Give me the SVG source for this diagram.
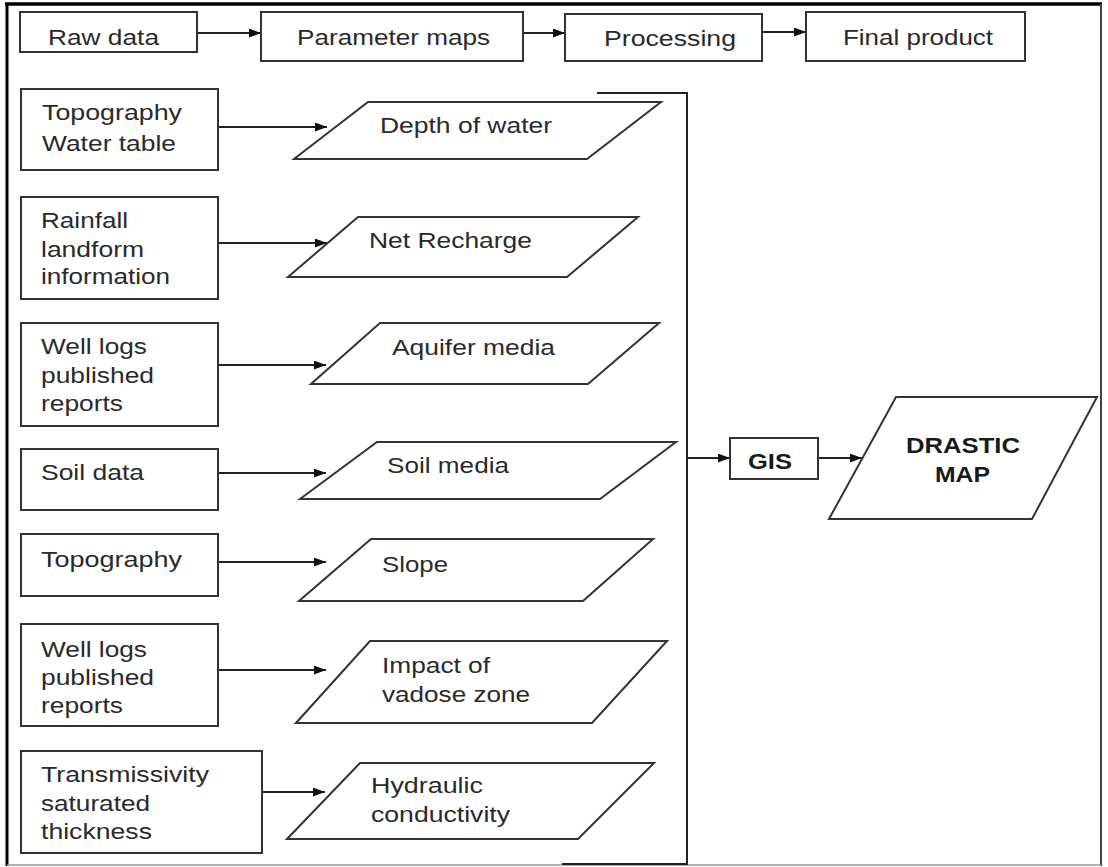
<svg xmlns="http://www.w3.org/2000/svg" width="1108" height="867" viewBox="0 0 1108 867">
<style>
.bx{fill:#fff;stroke:#333;stroke-width:2}
.t{font-family:"Liberation Sans",Arial,sans-serif;font-size:22px;fill:#2a2a2a}
.b{font-weight:bold;fill:#1a1a1a}
.c{stroke:#222;stroke-width:2;fill:none}
</style>
<defs>
<marker id="ah" markerUnits="userSpaceOnUse" markerWidth="13" markerHeight="10" refX="12" refY="4.5" orient="auto">
<path d="M0,0 L12,4.5 L0,9 z" fill="#111"/>
</marker>
</defs>
<rect width="1108" height="867" fill="#fff"/>
<g id="frame">
<line x1="5" y1="4" x2="1102" y2="4" stroke="#000" stroke-width="3.5"/>
<line x1="7" y1="3" x2="7" y2="866" stroke="#000" stroke-width="3"/>
<line x1="1101" y1="4" x2="1101" y2="866" stroke="#444" stroke-width="2"/>
<line x1="7" y1="865" x2="1101" y2="865" stroke="#999" stroke-width="1.5"/>
</g>
<g id="connectors">
<line class="c" x1="197" y1="33" x2="261" y2="33" marker-end="url(#ah)"/>
<line class="c" x1="523" y1="33" x2="565" y2="33" marker-end="url(#ah)"/>
<line class="c" x1="762" y1="32" x2="806" y2="32" marker-end="url(#ah)"/>
<line class="c" x1="218" y1="127" x2="327" y2="127" marker-end="url(#ah)"/>
<line class="c" x1="218" y1="243" x2="327" y2="243" marker-end="url(#ah)"/>
<line class="c" x1="218" y1="365" x2="326" y2="365" marker-end="url(#ah)"/>
<line class="c" x1="218" y1="473" x2="326" y2="473" marker-end="url(#ah)"/>
<line class="c" x1="218" y1="562" x2="326" y2="562" marker-end="url(#ah)"/>
<line class="c" x1="218" y1="670" x2="326" y2="670" marker-end="url(#ah)"/>
<line class="c" x1="262" y1="792" x2="325" y2="792" marker-end="url(#ah)"/>
<polyline class="c" points="597,93 687,93 687,864 562,864"/>
<line class="c" x1="687" y1="458" x2="730" y2="458" marker-end="url(#ah)"/>
<line class="c" x1="818" y1="458" x2="862" y2="458" marker-end="url(#ah)"/>
</g>
<g id="raw-data"><rect class="bx" x="20" y="12" width="177" height="40"/><text class="t" x="48" y="45" textLength="111" lengthAdjust="spacingAndGlyphs">Raw data</text></g>
<g id="parameter-maps"><rect class="bx" x="261" y="12" width="262" height="49"/><text class="t" x="297" y="45" textLength="193" lengthAdjust="spacingAndGlyphs">Parameter maps</text></g>
<g id="processing"><rect class="bx" x="565" y="14" width="197" height="47"/><text class="t" x="604" y="46" textLength="132" lengthAdjust="spacingAndGlyphs">Processing</text></g>
<g id="final-product"><rect class="bx" x="806" y="12" width="219" height="49"/><text class="t" x="843" y="45" textLength="150" lengthAdjust="spacingAndGlyphs">Final product</text></g>

<g id="src1"><rect class="bx" x="21" y="89" width="197" height="81"/><text class="t" x="42" y="120" textLength="140" lengthAdjust="spacingAndGlyphs">Topography</text><text class="t" x="42" y="151" textLength="134" lengthAdjust="spacingAndGlyphs">Water table</text></g>
<g id="src2"><rect class="bx" x="21" y="197" width="197" height="102"/><text class="t" x="41" y="228" textLength="87" lengthAdjust="spacingAndGlyphs">Rainfall</text><text class="t" x="41" y="257" textLength="103" lengthAdjust="spacingAndGlyphs">landform</text><text class="t" x="41" y="284" textLength="129" lengthAdjust="spacingAndGlyphs">information</text></g>
<g id="src3"><rect class="bx" x="21" y="323" width="197" height="103"/><text class="t" x="41" y="354" textLength="106" lengthAdjust="spacingAndGlyphs">Well logs</text><text class="t" x="41" y="383" textLength="113" lengthAdjust="spacingAndGlyphs">published</text><text class="t" x="41" y="411" textLength="82" lengthAdjust="spacingAndGlyphs">reports</text></g>
<g id="src4"><rect class="bx" x="21" y="449" width="197" height="61"/><text class="t" x="41" y="480" textLength="103" lengthAdjust="spacingAndGlyphs">Soil data</text></g>
<g id="src5"><rect class="bx" x="21" y="534" width="197" height="62"/><text class="t" x="41" y="567" textLength="141" lengthAdjust="spacingAndGlyphs">Topography</text></g>
<g id="src6"><rect class="bx" x="21" y="624" width="197" height="102"/><text class="t" x="41" y="657" textLength="106" lengthAdjust="spacingAndGlyphs">Well logs</text><text class="t" x="41" y="685" textLength="113" lengthAdjust="spacingAndGlyphs">published</text><text class="t" x="41" y="713" textLength="82" lengthAdjust="spacingAndGlyphs">reports</text></g>
<g id="src7"><rect class="bx" x="21" y="751" width="241" height="102"/><text class="t" x="41" y="782" textLength="168" lengthAdjust="spacingAndGlyphs">Transmissivity</text><text class="t" x="41" y="811" textLength="109" lengthAdjust="spacingAndGlyphs">saturated</text><text class="t" x="41" y="839" textLength="111" lengthAdjust="spacingAndGlyphs">thickness</text></g>

<g id="depth-of-water"><polygon class="bx" points="294,159 368,102 661,102 587,159"/><text class="t" x="380" y="133" textLength="172" lengthAdjust="spacingAndGlyphs">Depth of water</text></g>
<g id="net-recharge"><polygon class="bx" points="288,277 358,217 638,217 567,277"/><text class="t" x="369" y="248" textLength="163" lengthAdjust="spacingAndGlyphs">Net Recharge</text></g>
<g id="aquifer-media"><polygon class="bx" points="311,384 380,323 659,323 588,384"/><text class="t" x="392" y="355" textLength="163" lengthAdjust="spacingAndGlyphs">Aquifer media</text></g>
<g id="soil-media"><polygon class="bx" points="300,499 377,442 676,442 600,499"/><text class="t" x="387" y="473" textLength="122" lengthAdjust="spacingAndGlyphs">Soil media</text></g>
<g id="slope"><polygon class="bx" points="299,601 371,539 653,539 583,601"/><text class="t" x="382" y="572" textLength="66" lengthAdjust="spacingAndGlyphs">Slope</text></g>
<g id="vadose"><polygon class="bx" points="296,723 370,641 667,641 592,723"/><text class="t" x="382" y="673" textLength="108" lengthAdjust="spacingAndGlyphs">Impact of</text><text class="t" x="382" y="702" textLength="148" lengthAdjust="spacingAndGlyphs">vadose zone</text></g>
<g id="hydraulic"><polygon class="bx" points="287,839 360,763 654,763 578,839"/><text class="t" x="371" y="793" textLength="112" lengthAdjust="spacingAndGlyphs">Hydraulic</text><text class="t" x="371" y="822" textLength="139" lengthAdjust="spacingAndGlyphs">conductivity</text></g>

<g id="gis"><rect class="bx" x="730" y="438" width="88" height="41"/><text class="t b" x="748" y="469" textLength="44" lengthAdjust="spacingAndGlyphs">GIS</text></g>
<g id="drastic-map"><polygon class="bx" points="829,519 896,397 1097,397 1032,519"/><text class="t b" x="906" y="453" textLength="114" lengthAdjust="spacingAndGlyphs">DRASTIC</text><text class="t b" x="935" y="482" textLength="55" lengthAdjust="spacingAndGlyphs">MAP</text></g>
</svg>
